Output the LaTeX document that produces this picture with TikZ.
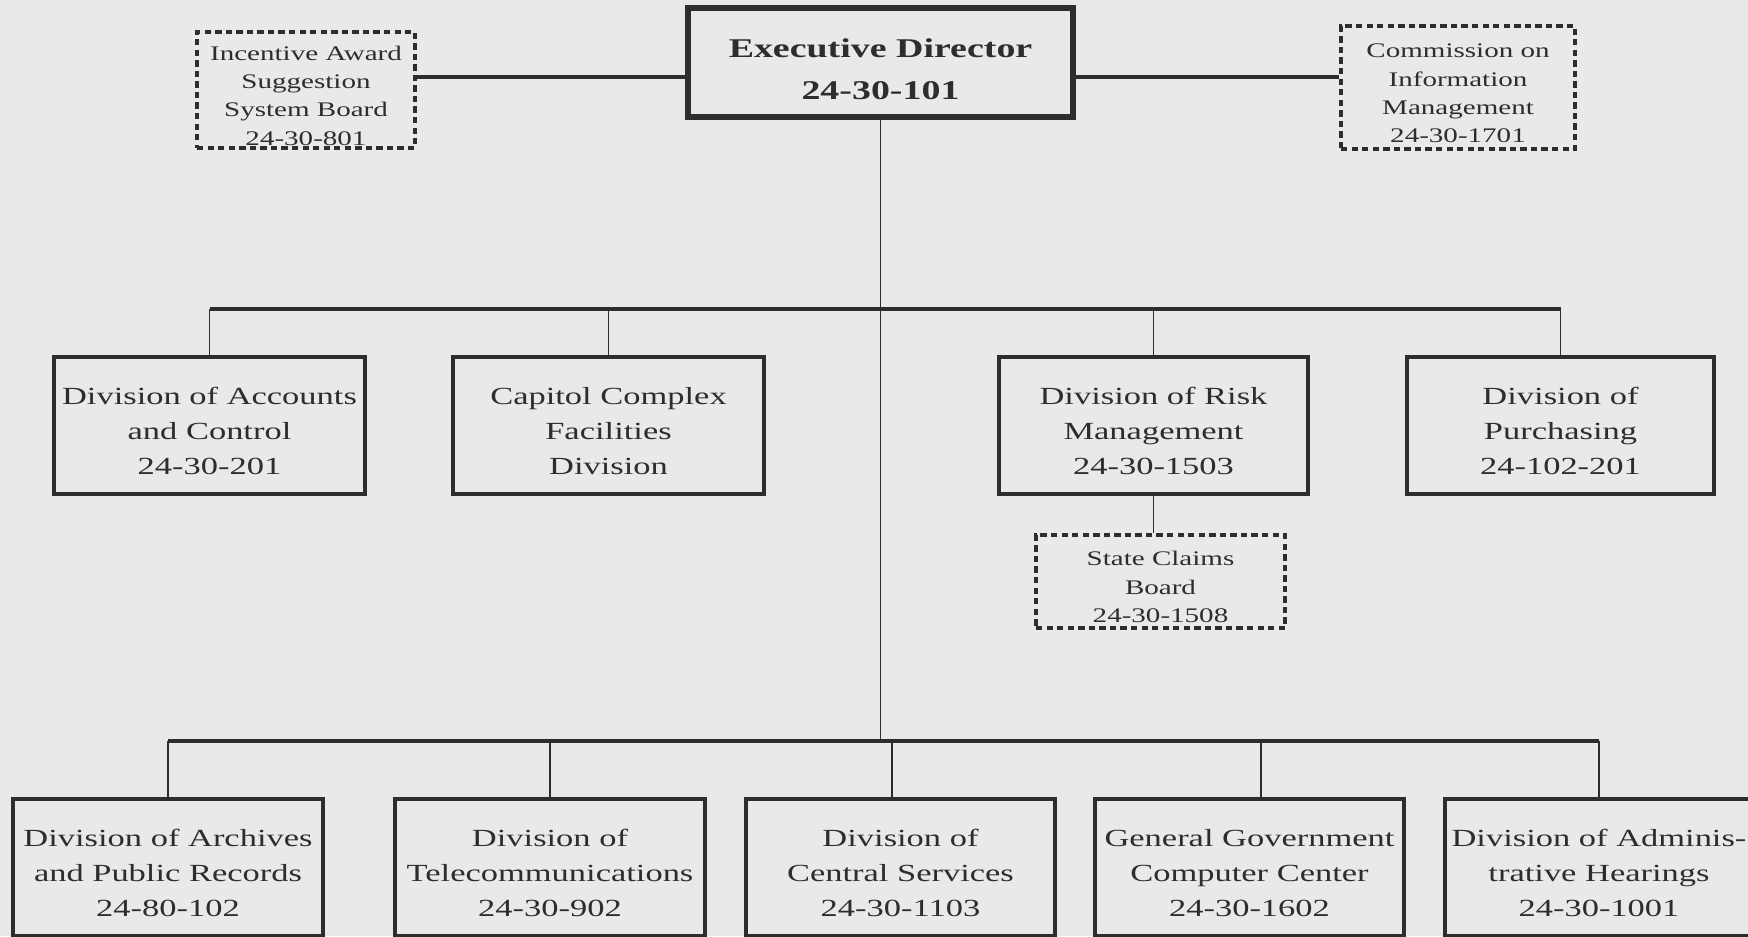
\documentclass[tikz,border=0pt]{standalone}
\usepackage{fontspec}
\setmainfont{Liberation Serif}[FakeStretch=1.4]
\usepackage{tikz}
\definecolor{ink}{RGB}{45,45,45}
\definecolor{paper}{RGB}{232,233,232}
\newcommand{\unitfont}{\fontsize{7}{10}\selectfont}
\newcommand{\headfont}{\fontsize{7.7}{12}\selectfont\bfseries}
\newcommand{\boardfont}{\fontsize{5.9}{8.05}\selectfont}
% extra room above the first line, pushes the text down a little
\newcommand{\topgap}[1]{\rule{0pt}{\dimexpr0.7em+#1\relax}}
\tikzset{
  unit/.style={draw=ink, line width=0.9pt, rectangle, align=center, inner sep=0pt, text=ink, font=\unitfont},
  board/.style={unit, dash pattern=on 1.8pt off 1.2pt, font=\boardfont},
  head/.style={unit, line width=1.8pt, font=\headfont},
  link/.style={draw=ink, line width=0.45pt},
  bus/.style={draw=ink, line width=0.9pt}
}
\newcommand{\unitbox}[6]{\node[unit, minimum width=#4*0.01cm, minimum height=#5*0.01cm] (#1) at (#2,#3) {\topgap{3.2pt}#6};}
\newcommand{\boardbox}[6]{\node[board, minimum width=#4*0.01cm, minimum height=#5*0.01cm] (#1) at (#2,#3) {\topgap{3.2pt}#6};}

\begin{document}
\begin{tikzpicture}[x=0.01cm, y=-0.01cm]
        \useasboundingbox (0,0) rectangle (1748,936);
        \fill[paper] (0,0) rectangle (1748,936);

        % top
        \node[head, minimum width=385*0.01cm, minimum height=109*0.01cm] (ed) at (880.5,62.5) {\topgap{4pt}Executive Director\\24-30-101};
        \boardbox{inc}{306}{90}{218}{116}{Incentive Award\\Suggestion\\System Board\\24-30-801}
        \boardbox{cim}{1458}{87.5}{234}{123}{Commission on\\Information\\Management\\24-30-1701}

        % row1
        \unitbox{acc}{209.5}{425.5}{311}{137}{Division of Accounts\\and Control\\24-30-201}
        \unitbox{cap}{608.5}{425.5}{311}{137}{Capitol Complex\\Facilities\\Division}
        \unitbox{risk}{1153.5}{425.5}{309}{137}{Division of Risk\\Management\\24-30-1503}
        \unitbox{pur}{1560.5}{425.5}{307}{137}{Division of\\Purchasing\\24-102-201}
        \boardbox{scb}{1160.5}{581.5}{249}{93}{State Claims\\Board\\24-30-1508}

        % row2
        \unitbox{arch}{168}{867.5}{310}{137}{Division of Archives\\and Public Records\\24-80-102}
        \unitbox{tel}{550}{867.5}{310}{137}{Division of\\Telecommunications\\24-30-902}
        \unitbox{cen}{900.5}{867.5}{309}{137}{Division of\\Central Services\\24-30-1103}
        \unitbox{gen}{1249.5}{867.5}{309}{137}{General Government\\Computer Center\\24-30-1602}
        \unitbox{adm}{1599}{867.5}{308}{137}{Division of Adminis-\\trative Hearings\\24-30-1001}

        % lines
        \coordinate (side) at (0,77);
        \coordinate (bus1) at (882,309);
        \coordinate (bus2) at (882,741);
        \coordinate (cenin) at ([xshift=-0.085cm]cen.north);
        \coordinate (genin) at ([xshift=0.115cm]gen.north);
        \draw[bus] (inc.east |- side) -- (ed.west |- side);
        \draw[bus] (ed.east |- side) -- (cim.west |- side);
        \draw[link] (ed.south) -- (ed.south |- bus2);
        \draw[bus] (acc.north |- bus1) -- (pur.north |- bus1);
        \foreach \n in {acc,cap,risk,pur}
            \draw[link] (\n.north) -- (\n.north |- bus1);
        \draw[link] (risk.south) -- (risk.south |- scb.north);
        \draw[bus] (arch.north |- bus2) -- (adm.north |- bus2);
        \foreach \n in {arch,tel,cenin,genin,adm}
            \draw[link] (\n) -- (\n |- bus2);
\end{tikzpicture}
\end{document}
